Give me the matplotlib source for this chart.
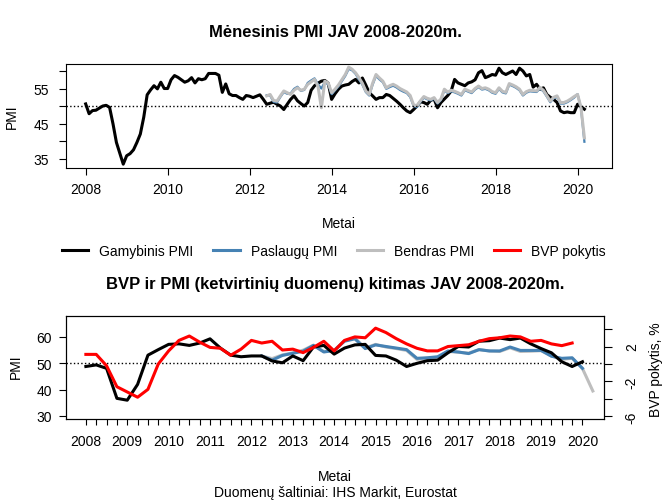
import numpy as np
import matplotlib.pyplot as plt
from matplotlib.lines import Line2D

plt.rcParams['font.family'] = ['Liberation Sans', 'DejaVu Sans']

# --- menesiniai duomenys ---
# Gamybinis PMI, 2008-01 .. 2020-03
gamybinis_men = [
    50.6, 47.8, 48.7, 48.8, 49.4, 50.0, 50.2, 49.6, 44.9, 39.6, 36.5, 33.4,
    35.8, 36.4, 37.5, 39.6, 42.0, 46.8, 53.2, 54.6, 55.8, 54.9, 56.8, 55.0,
    55.0, 57.5, 58.7, 58.2, 57.5, 56.8, 57.2, 58.1, 56.6, 57.8, 57.5, 57.8,
    59.3, 59.3, 59.3, 58.8, 53.9, 56.3, 53.5, 53.0, 53.0, 52.4, 51.9, 53.0,
    52.8, 52.4, 52.8, 53.2, 51.9, 50.5, 50.8, 51.1, 50.5, 50.0, 49.0, 50.5,
    51.9, 52.9, 51.5, 50.7, 50.0, 51.0, 54.5, 55.8, 56.5, 57.1, 57.3, 56.5,
    51.9, 53.5, 54.8, 55.7, 56.0, 56.2, 57.0, 57.6, 56.6, 58.0, 56.0, 53.8,
    52.9, 51.9, 52.4, 52.4, 53.3, 53.0, 52.2, 51.4, 50.5, 49.5, 48.6, 48.1,
    49.0, 50.0, 51.2, 51.0, 50.5, 51.6, 52.0, 49.5, 51.0, 52.0, 53.0, 54.3,
    57.6, 56.6, 56.2, 55.8, 56.6, 56.9, 57.5, 59.5, 60.1, 58.1, 58.5, 59.0,
    58.8, 60.8, 59.5, 59.0, 59.5, 60.0, 59.0, 60.8, 60.0, 58.6, 59.0, 55.4,
    56.2, 54.8, 55.2, 53.3, 52.5, 51.9, 51.0, 48.6, 48.1, 48.3, 48.1, 48.1,
    50.5, 49.8, 49.1,
]
# Paslaugu PMI, 2012-06 .. 2020-03
paslaugu_men = [
    53.1, 53.0, 51.2, 51.0, 52.6, 54.0, 53.5,
    53.6, 54.9, 55.5, 54.3, 54.6, 56.6, 57.3, 57.9, 56.2, 55.0, 56.8, 56.2,
    53.4, 54.5, 55.6, 57.1, 58.6, 60.6, 60.2, 59.2, 57.6, 56.1, 54.0, 53.0,
    56.1, 58.6, 57.6, 56.8, 54.9, 55.4, 55.8, 55.3, 54.6, 54.1, 53.7, 52.6,
    50.0, 49.7, 51.2, 52.4, 51.9, 51.6, 52.1, 50.7, 51.7, 54.5, 53.7, 54.2,
    53.9, 53.5, 53.0, 54.5, 54.1, 53.7, 54.7, 55.4, 54.7, 54.9, 54.5, 53.8,
    53.5, 54.9, 53.9, 53.6, 56.1, 55.7, 55.2, 54.5, 53.0, 53.8, 54.2, 54.1,
    54.0, 55.0, 54.2, 52.7, 51.1, 52.2, 52.6, 50.7, 50.7, 51.1, 51.7, 52.4,
    53.4, 49.4, 39.8,
]
# Bendras PMI, 2012-06 .. 2020-03
bendras_men = [
    52.9, 53.3, 51.6, 51.4, 52.9, 54.3, 53.8,
    53.3, 54.5, 55.2, 54.5, 54.8, 56.2, 56.9, 57.6, 55.7, 49.5, 57.1, 56.6,
    53.8, 54.8, 56.0, 57.5, 59.0, 61.1, 60.5, 59.5, 58.1, 56.5, 54.3, 53.3,
    56.5, 59.0, 58.0, 57.1, 55.2, 55.8, 56.2, 55.7, 55.0, 54.5, 54.0, 53.0,
    50.3, 50.1, 51.5, 52.7, 52.2, 51.9, 52.4, 51.0, 52.0, 54.8, 54.0, 54.5,
    54.2, 53.8, 53.3, 54.8, 54.4, 54.0, 55.0, 55.7, 55.0, 55.2, 54.8, 54.1,
    53.8, 55.2, 54.2, 53.9, 56.4, 56.0, 55.5, 54.8, 53.3, 54.1, 54.5, 54.4,
    54.3, 55.3, 54.5, 53.0, 51.4, 52.5, 52.9, 51.0, 51.0, 51.4, 52.0, 52.7,
    53.3, 49.6, 40.9,
]

# --- ketvirtiniai duomenys ---
# Gamybinis PMI, 2008K1 .. 2020K1
gamybinis_ketv = [
    48.8, 49.4, 48.1, 36.7, 36.0, 42.0, 53.1, 55.2, 57.2, 57.4, 56.8, 57.7,
    59.3, 55.8, 53.1, 52.5, 52.8, 52.8, 50.9, 50.2, 52.8, 51.0, 56.2, 56.8,
    53.5, 55.8, 57.0, 57.2, 53.0, 52.8, 51.2, 48.8, 50.0, 51.0, 51.2, 54.0,
    56.4, 56.2, 58.4, 58.6, 59.6, 59.0, 59.6, 57.4, 55.6, 54.0, 50.6, 48.8,
    50.6,
]
# Paslaugu PMI, 2012K2 .. 2020K1
paslaugu_ketv = [
    52.8, 51.2, 53.0, 53.8, 54.6, 56.8, 54.3, 54.9, 58.4, 59.3, 55.6, 57.0,
    56.4, 55.8, 55.2, 51.9, 52.1, 52.5, 54.7, 54.3, 53.7, 55.2, 54.7, 54.7,
    56.2, 54.9, 54.9, 54.9, 52.7, 51.9, 52.1, 48.1,
]
# Bendras PMI, 2012K2 .. 2020K2
bendras_ketv = [
    52.8, 51.8, 53.2, 54.0, 55.0, 56.9, 54.5, 54.9, 58.6, 59.6, 55.8, 57.2,
    56.2, 55.6, 54.9, 51.5, 52.0, 52.1, 54.5, 54.2, 53.9, 55.2, 54.7, 54.5,
    55.9, 54.5, 54.6, 54.8, 52.8, 51.5, 51.9, 48.0, 39.5,
]
# BVP pokytis (%), 2008K1 .. 2019K4
bvp_ketv = [
    1.1, 1.1, -0.2, -2.6, -3.2, -3.8, -2.9, 0.0, 1.5, 2.7, 3.2, 2.5,
    1.9, 1.8, 1.0, 1.7, 2.7, 2.4, 2.6, 1.6, 1.7, 1.3, 1.9, 2.6,
    1.5, 2.7, 3.1, 3.0, 4.1, 3.6, 2.9, 2.3, 1.8, 1.5, 1.5, 2.0,
    2.1, 2.2, 2.6, 2.9, 3.0, 3.2, 3.1, 2.6, 2.7, 2.3, 2.1, 2.4,
]
metai = list(range(2008, 2021))

men_x = 2008 + np.arange(len(gamybinis_men)) / 12
men_x_pasl = 2012 + 5 / 12 + np.arange(len(paslaugu_men)) / 12
ketv_x = 2008 + np.arange(len(gamybinis_ketv)) / 4
ketv_x_pasl = 2012.25 + np.arange(len(paslaugu_ketv)) / 4
ketv_x_bendr = 2012.25 + np.arange(len(bendras_ketv)) / 4
bvp_x = 2008 + np.arange(len(bvp_ketv)) / 4

BLUE = '#4682B4'
GRAY = '#BEBEBE'
W, H = 670, 502

fig = plt.figure(figsize=(6.7, 5.02), dpi=100)

# ---- virsutinis grafikas ----
ax1 = fig.add_axes([66 / W, 1 - 169 / H, 546 / W, 104 / H])
ax1.plot(men_x, gamybinis_men, color='black', lw=2.2)
ax1.plot(men_x_pasl, paslaugu_men, color=BLUE, lw=1.6)
ax1.plot(men_x_pasl, bendras_men, color=GRAY, lw=2.2)
ax1.axhline(50, color='black', ls=':', lw=1)
ax1.set_xlim(2007.52, 2020.84)
ax1.set_ylim(32.3, 62.0)
ax1.set_xticks(metai[::2])
ax1.set_yticks([35, 40, 45, 50, 55, 60])
ax1.set_yticklabels(['35', '', '45', '', '55', ''])
ax1.tick_params(axis='x', direction='out', length=5, width=0.8, labelsize=10, pad=5)
ax1.tick_params(axis='y', direction='out', length=5, width=0.8, labelsize=10, pad=7)

# ---- apatinis grafikas ----
ax2 = fig.add_axes([66 / W, 1 - 420 / H, 538 / W, 103 / H])
ax2.plot(ketv_x_bendr, bendras_ketv, color=GRAY, lw=2.2)
ax2.plot(ketv_x_pasl, paslaugu_ketv, color=BLUE, lw=2.2)
ax2.plot(ketv_x, gamybinis_ketv, color='black', lw=2.2)
ax2.axhline(50, color='black', ls=':', lw=1)
ax2.set_xlim(2007.52, 2020.52)
ax2.set_ylim(28.86, 67.97)
ax2.set_xticks(ketv_x)
ax2.set_xticklabels([str(int(x)) if x == int(x) else '' for x in ketv_x])
ax2.set_yticks([30, 40, 50, 60])
ax2.tick_params(axis='x', direction='out', length=4, width=0.8, labelsize=10, pad=7)
ax2.tick_params(axis='y', direction='out', length=5, width=0.8, labelsize=10, pad=5)

ax3 = ax2.twinx()
ax3.plot(bvp_x, bvp_ketv, color='red', lw=2.2)
ax3.set_ylim(-6.29, 5.49)
ax3.set_yticks([4, 2, 0, -2, -4, -6])
ax3.set_yticklabels(['', '2', '', '-2', '', '-6'], rotation=90, va='center')
ax3.tick_params(direction='out', length=6, width=0.8, labelsize=10, pad=9)

for a in (ax1, ax2, ax3):
    for s in a.spines.values():
        s.set_linewidth(0.8)

# ---- tekstai ----
def fy(y):
    return 1 - y / H

fig.text(0.5, fy(33), 'Mėnesinis PMI JAV 2008-2020m.', ha='center', va='center',
         fontsize=12, fontweight='bold')
fig.text(12 / W, fy(117), 'PMI', rotation=90, ha='center', va='center', fontsize=10)
fig.text(339 / W, fy(224), 'Metai', ha='center', va='center', fontsize=10)

handles = [Line2D([], [], color=c, lw=2.2) for c in ('black', BLUE, GRAY, 'red')]
fig.legend(handles, ['Gamybinis PMI', 'Paslaugų PMI', 'Bendras PMI', 'BVP pokytis'],
           loc='center', bbox_to_anchor=(334 / W, fy(252)), ncol=4, frameon=False,
           fontsize=10, handlelength=1.9, handletextpad=0.8, columnspacing=1.4)

fig.text(0.5, fy(285), 'BVP ir PMI (ketvirtinių duomenų) kitimas JAV 2008-2020m.',
         ha='center', va='center', fontsize=12, fontweight='bold')
fig.text(16 / W, fy(367), 'PMI', rotation=90, ha='center', va='center', fontsize=10)
fig.text(656 / W, fy(370), 'BVP pokytis, %', rotation=90, ha='center', va='center',
         fontsize=10)
fig.text(335 / W, fy(477), 'Metai', ha='center', va='center', fontsize=10)
fig.text(335 / W, fy(493), 'Duomenų šaltiniai: IHS Markit, Eurostat', ha='center',
         va='center', fontsize=10)

fig.savefig('out.png', dpi=100)
